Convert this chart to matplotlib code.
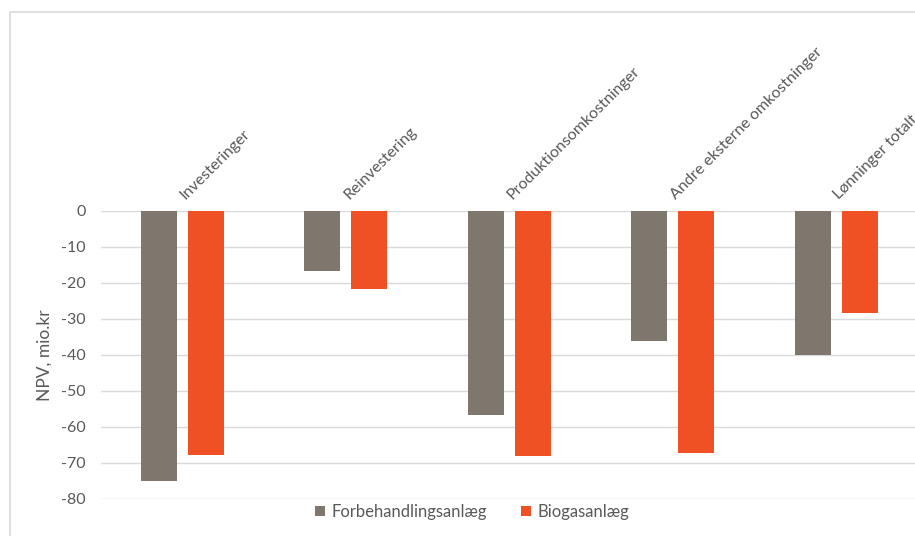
import numpy as np
import matplotlib
matplotlib.use("Agg")
import matplotlib.pyplot as plt
from matplotlib.patches import Rectangle

categories = ["Investeringer", "Reinvestering", "Produktionsomkostninger",
              "Andre eksterne omkostninger", "Lønninger totalt"]
forbehandling = [-75.0, -16.7, -56.7, -36.1, -40.0]
biogas = [-67.8, -21.7, -68.0, -67.2, -28.3]
series_names = ["Forbehandlingsanlæg", "Biogasanlæg"]
yticks = [0, -10, -20, -30, -40, -50, -60, -70, -80]

grey = "#7F776E"
orange = "#F05124"
text_col = "#595959"

plt.rcParams["font.family"] = ["Lato", "DejaVu Sans"]

fig = plt.figure(figsize=(9.15, 5.36), dpi=100)
ax = fig.add_axes([100.75 / 915, 37 / 536, 817 / 915, 288 / 536])

x = np.arange(len(categories))
w = 36 / 163.5
off = 23.5 / 163.5
ax.bar(x - off, forbehandling, width=w, color=grey, label=series_names[0], zorder=3)
ax.bar(x + off, biogas, width=w, color=orange, label=series_names[1], zorder=3)

ax.set_xlim(-0.5, len(categories) - 0.5)
ax.set_ylim(-80, 0)
ax.set_yticks(yticks)
ax.set_yticklabels([str(v) for v in yticks])
ax.set_xticks([])
ax.tick_params(axis="y", length=0, pad=11, labelsize=11.5, labelcolor=text_col)
ax.yaxis.grid(True, color="#D9D9D9", linewidth=1)
ax.set_axisbelow(True)
for s in ax.spines.values():
    s.set_visible(False)
ax.set_ylabel("NPV, mio.kr", fontsize=12.5, color=text_col, labelpad=6)

# category labels above the zero line, rotated like Excel
for i, c in enumerate(categories):
    ax.text(i + 0.02, 1.04, c, transform=ax.get_xaxis_transform(),
            rotation=45, rotation_mode="anchor", ha="left", va="baseline",
            fontsize=11.5, color=text_col, clip_on=False)

leg = fig.legend(loc="center", bbox_to_anchor=(472 / 915, 1 - 512 / 536), ncol=2,
                 frameon=False, fontsize=12, handlelength=0.6, handleheight=0.6,
                 columnspacing=2.0, handletextpad=0.4)
for t in leg.get_texts():
    t.set_color(text_col)

# chart-area border (extends past the cropped right/bottom edges)
fig.patches.append(Rectangle((10 / 915, -0.5), 2.0, 0.5 + (536 - 12) / 536,
                             transform=fig.transFigure, fill=False,
                             edgecolor="#D9D9D9", linewidth=1.2))

fig.savefig("out.png", dpi=100)
